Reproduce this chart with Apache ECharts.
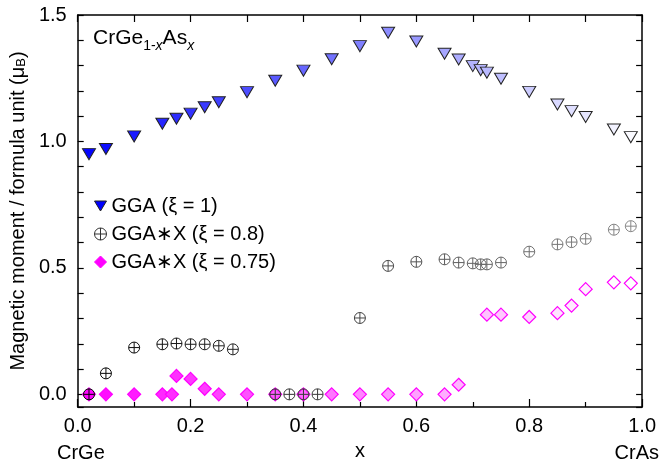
<!DOCTYPE html>
<html><head><meta charset="utf-8">
<script src="https://cdn.jsdelivr.net/npm/echarts@6/dist/echarts.min.js"></script>
<style>html,body{margin:0;padding:0;background:#fff}#c{width:659px;height:466px}</style>
</head><body><div id="c"></div>
<script>
// GGA (xi = 1)
const ggaX = [0.02,0.05,0.1,0.15,0.175,0.2,0.225,0.25,0.3,0.35,0.4,0.45,0.5,0.55,0.6,0.65,0.675,0.7,0.714,0.725,0.75,0.8,0.85,0.875,0.9,0.95,0.98];
const ggaY = [0.95,0.97,1.02,1.07,1.09,1.11,1.135,1.155,1.195,1.24,1.28,1.325,1.377,1.43,1.395,1.347,1.324,1.298,1.282,1.272,1.248,1.196,1.146,1.12,1.097,1.047,1.017];
// GGA*X (xi = 0.8)
const x08 = [0.02,0.05,0.1,0.15,0.175,0.2,0.225,0.25,0.275,0.35,0.375,0.4,0.425,0.5,0.55,0.6,0.65,0.675,0.7,0.714,0.725,0.75,0.8,0.85,0.875,0.9,0.95,0.98];
const y08 = [0,0.083,0.185,0.198,0.201,0.198,0.198,0.192,0.178,0,0,0,0,0.302,0.508,0.524,0.534,0.521,0.518,0.514,0.514,0.521,0.564,0.593,0.602,0.615,0.651,0.665];
// GGA*X (xi = 0.75)
const x075 = [0.02,0.05,0.1,0.15,0.167,0.175,0.2,0.225,0.25,0.3,0.35,0.4,0.45,0.5,0.55,0.6,0.65,0.675,0.725,0.75,0.8,0.85,0.875,0.9,0.95,0.98];
const y075 = [0,0,0,0,0,0.073,0.061,0.022,0,0,0,0,0,0,0,0,0,0.038,0.315,0.315,0.306,0.321,0.351,0.416,0.443,0.439];

const seriesNames = ['GGA (ξ = 1)', 'GGA∗X (ξ = 0.8)', 'GGA∗X (ξ = 0.75)'];
const xTickLabels = ['0.0','0.2','0.4','0.6','0.8','1.0'];
const yTickLabels = ['0.0','0.5','1.0','1.5'];

const FONT = '"Liberation Sans", Arial, sans-serif';
const TRI = 'path://M0,0 L12,0 L6,10 Z';
const OPLUS = 'path://M0,5 A5,5 0 1 1 10,5 A5,5 0 1 1 0,5 Z M5,0 L5,10 M0,5 L10,5';

function mix(a, b, t) {
  const c = a.map((v, i) => Math.round(v + (b[i] - v) * t));
  return 'rgb(' + c.join(',') + ')';
}
const BLUE = [0,0,255], WHITE = [255,255,255], BLACK = [0,0,0], GRAY = [140,140,140], MAG = [255,0,255];

const ggaData = ggaX.map((x, i) => ({value: [x, ggaY[i]], itemStyle: {color: mix(BLUE, WHITE, x)}}));
const d08 = x08.map((x, i) => ({value: [x, y08[i]], itemStyle: {borderColor: mix(BLACK, GRAY, x)}}));
const d075 = x075.map((x, i) => ({value: [x, y075[i]], itemStyle: {color: mix(MAG, WHITE, Math.min(1, x * 1.05))}}));

const axisCommon = {
  type: 'value',
  splitLine: {show: false},
  axisLine: {show: true, onZero: false, lineStyle: {color: '#000', width: 1.5}},
};
const txt = {color: '#000', fontFamily: FONT, fontSize: 20};

const chart = echarts.init(document.getElementById('c'));
chart.setOption({
  animation: false,
  backgroundColor: '#fff',
  grid: {left: 77, right: 14, top: 15, bottom: 55},
  xAxis: [
    Object.assign({}, axisCommon, {
      min: 0, max: 1, interval: 0.2, position: 'bottom',
      axisTick: {inside: true, length: 8, lineStyle: {color: '#000', width: 1.2}},
      minorTick: {show: true, splitNumber: 2, length: 5, lineStyle: {color: '#000', width: 1.2}},
      axisLabel: Object.assign({}, txt, {margin: 9, formatter: v => xTickLabels[Math.round(v / 0.2)]}),
      name: 'x', nameLocation: 'middle', nameGap: 34, nameTextStyle: txt
    }),
    Object.assign({}, axisCommon, {
      min: 0, max: 1, interval: 0.1, position: 'top',
      axisTick: {inside: true, length: 7, lineStyle: {color: '#000', width: 1.2}},
      axisLabel: {show: false}
    })
  ],
  yAxis: [
    Object.assign({}, axisCommon, {
      min: -0.05, max: 1.5, splitNumber: 3, position: 'left',
      axisTick: {inside: true, length: 6, lineStyle: {color: '#000', width: 1.2}},
      minorTick: {show: true, splitNumber: 5, length: 6, lineStyle: {color: '#000', width: 1.2}},
      axisLabel: Object.assign({}, txt, {margin: 11, showMinLabel: false,
        formatter: v => { const k = Math.round(v / 0.5); return Math.abs(v - k * 0.5) < 1e-6 ? yTickLabels[k] : ''; }}),
      name: 'Magnetic moment / formula unit (μ{b|B})', nameLocation: 'middle', nameGap: 48,
      nameTextStyle: Object.assign({}, txt, {rich: {b: {fontSize: 13, fontFamily: FONT, color: '#000', verticalAlign: 'bottom', lineHeight: 12}}})
    }),
    Object.assign({}, axisCommon, {
      min: -0.05, max: 1.5, splitNumber: 3, position: 'right',
      axisTick: {inside: true, length: 6, lineStyle: {color: '#000', width: 1.2}},
      minorTick: {show: true, splitNumber: 5, length: 6, lineStyle: {color: '#000', width: 1.2}},
      axisLabel: {show: false}
    })
  ],
  legend: {
    orient: 'vertical', left: 89, top: 191, itemWidth: 12, itemHeight: 12, itemGap: 8,
    textStyle: txt,
    data: [
      {name: seriesNames[0], icon: TRI, itemStyle: {color: '#0000ff', borderColor: '#222', borderWidth: 1}},
      {name: seriesNames[1], icon: OPLUS, itemStyle: {color: 'rgba(0,0,0,0)', borderColor: '#333', borderWidth: 1}},
      {name: seriesNames[2], icon: 'diamond', itemStyle: {color: '#ff00ff', borderColor: '#ff00ff', borderWidth: 1}}
    ]
  },
  graphic: [
    {type: 'text', left: 93, top: 28, style: {
      text: '{m|CrGe}{s|1-}{i|x}{m|As}{i|x}',
      rich: {
        m: {fontSize: 21, fontFamily: FONT, fill: '#000', lineHeight: 30},
        s: {fontSize: 14, fontFamily: FONT, fill: '#000', lineHeight: 14, verticalAlign: 'bottom'},
        i: {fontSize: 14, fontFamily: FONT, fill: '#000', lineHeight: 14, verticalAlign: 'bottom', fontStyle: 'italic'}
      }}},
    {type: 'text', left: 57, top: 443, style: {text: 'CrGe', font: '20px ' + FONT, fill: '#000'}},
    {type: 'text', right: 0, top: 443, style: {text: 'CrAs', font: '20px ' + FONT, fill: '#000'}}
  ],
  series: [
    {type: 'scatter', name: seriesNames[0], data: ggaData, symbol: TRI, symbolSize: [13, 11], z: 2,
     itemStyle: {borderColor: '#222', borderWidth: 1, opacity: 1}},
    {type: 'scatter', name: seriesNames[1], data: d08, symbol: OPLUS, symbolSize: 11, z: 4,
     itemStyle: {color: 'rgba(0,0,0,0)', borderWidth: 1, opacity: 1}},
    {type: 'scatter', name: seriesNames[2], data: d075, symbol: 'diamond', symbolSize: 13, z: 3,
     itemStyle: {borderColor: '#ff00ff', borderWidth: 1.2, opacity: 1}}
  ]
});
</script></body></html>
